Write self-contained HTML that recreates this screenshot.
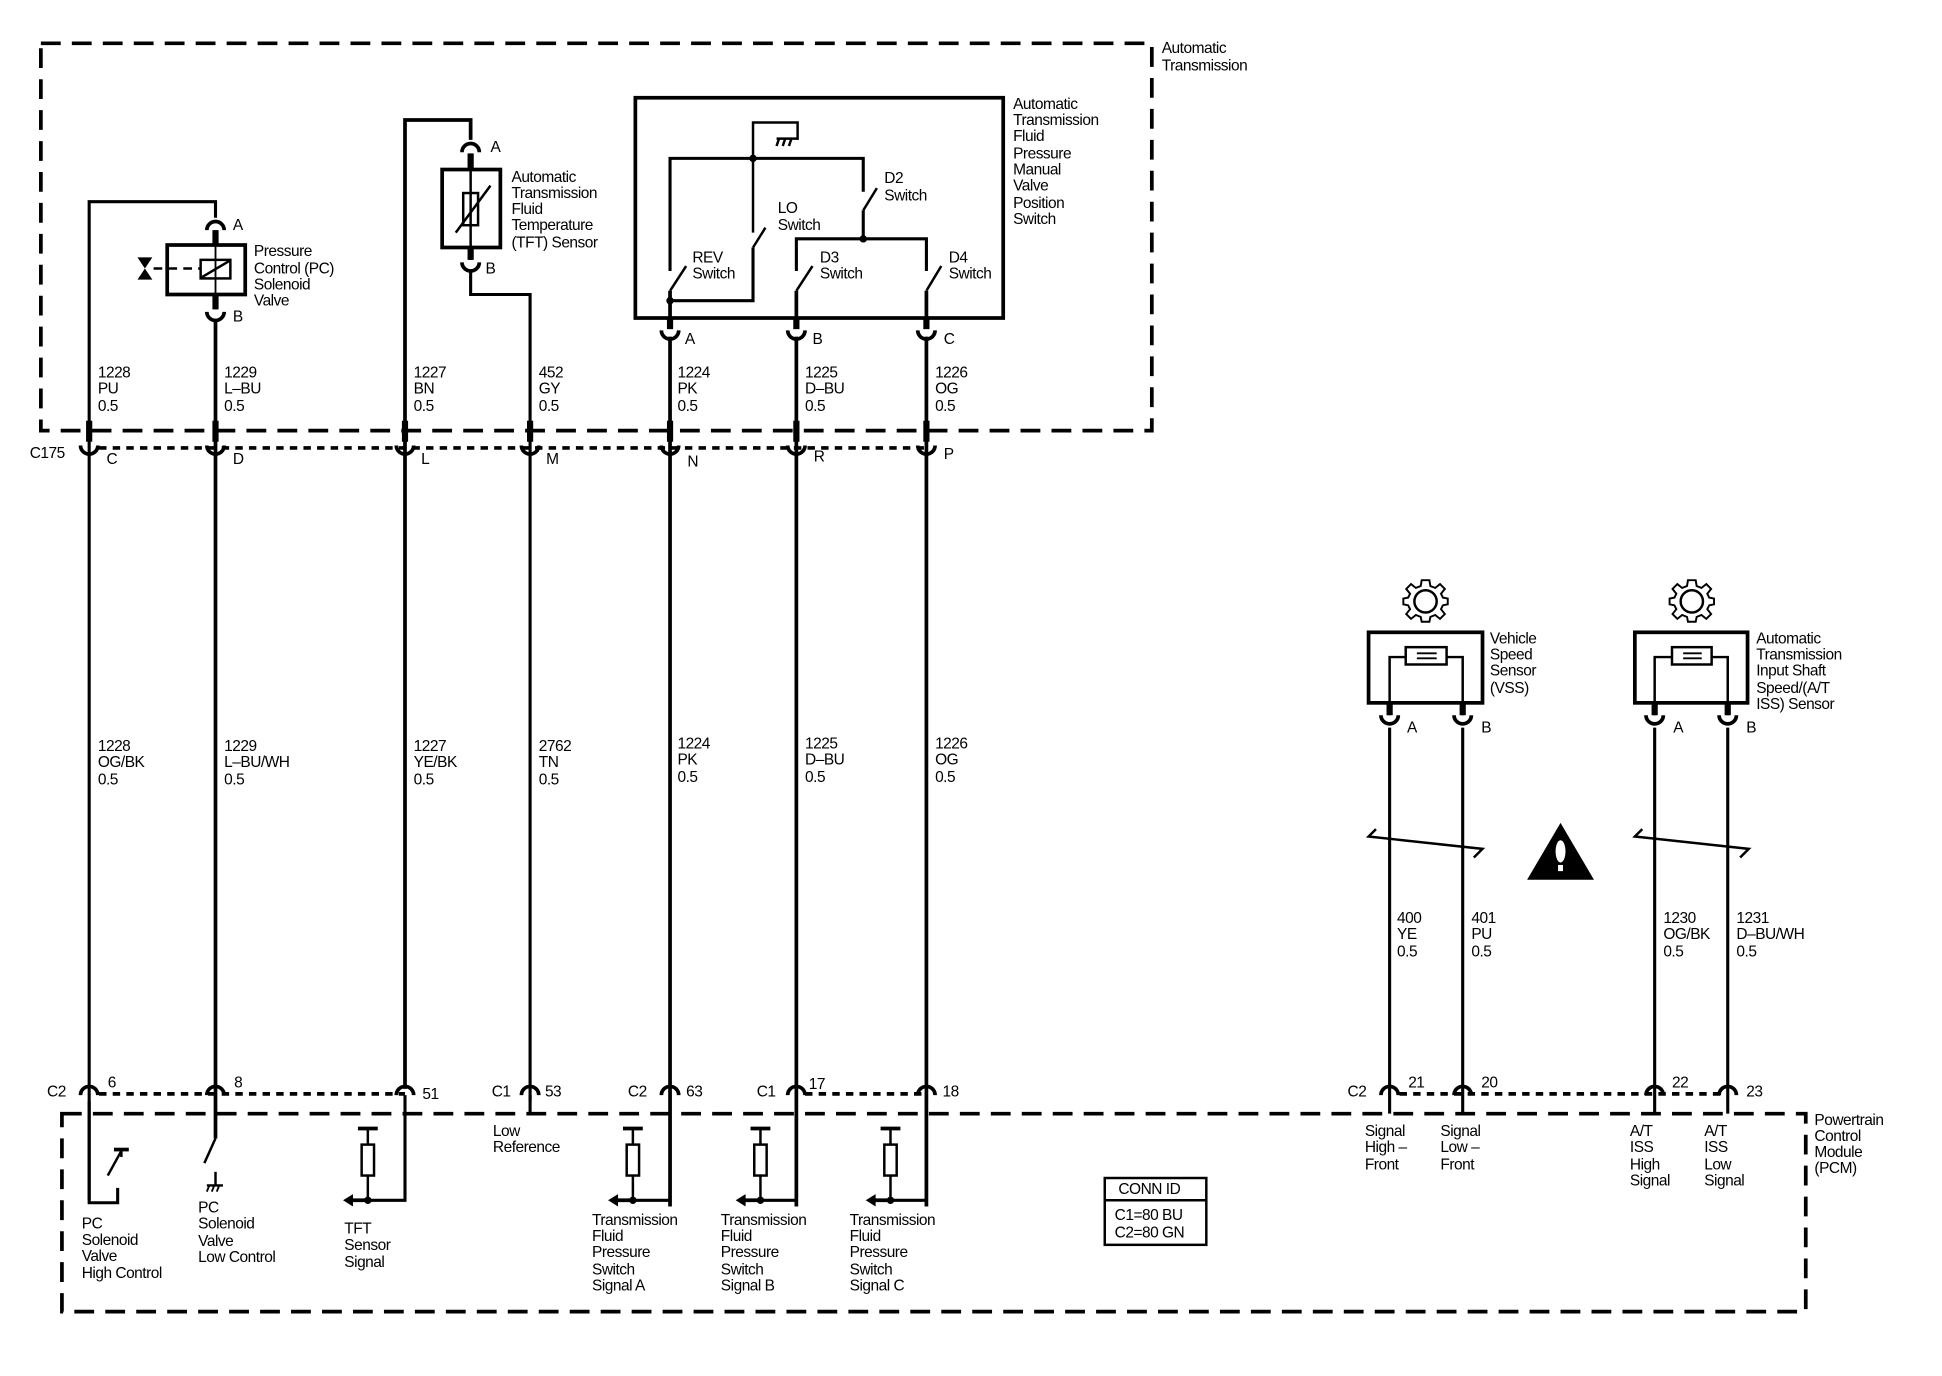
<!DOCTYPE html>
<html><head><meta charset="utf-8"><style>
html,body{margin:0;padding:0;background:#fff;}
svg{display:block;}
text{font-family:"Liberation Sans",sans-serif;font-size:12.5px;fill:#000;letter-spacing:-0.4px;}
</style></head><body>
<svg width="1942" height="1376" viewBox="0 0 1568 1112" preserveAspectRatio="none" xmlns="http://www.w3.org/2000/svg">
<defs>
<g id="cup"><path d="M-7,-5 A7,7 0 0 0 7,-5" fill="none" stroke="#000" stroke-width="3"/></g>
<g id="cap"><path d="M-7,5 A7,7 0 0 1 7,5" fill="none" stroke="#000" stroke-width="3"/></g>
<g id="gear" fill="none" stroke="#000" stroke-width="2">
<circle r="9"/>
<path d="M-4,-20 L4,-20 L5,-14 L10,-12 L15,-16 L20,-11 L16,-6 L18,-2 L23,-1 L23,5 L18,6 L16,10 L20,15 L15,20 L10,16 L5,18 L4,23 L-4,23 L-5,18 L-10,16 L-15,20 L-20,15 L-16,10 L-18,6 L-23,5 L-23,-1 L-18,-2 L-16,-6 L-20,-11 L-15,-16 L-10,-12 L-5,-14 Z" transform="translate(0,-1.5) scale(0.78)"/>
</g>
<g id="res" fill="none" stroke="#000" stroke-width="2">
<line x1="-8" y1="0" x2="8" y2="0" stroke-width="3"/>
<line x1="0" y1="0" x2="0" y2="13"/>
<rect x="-5" y="13" width="10" height="25"/>
<line x1="0" y1="38" x2="0" y2="58"/>
<circle cx="0" cy="58" r="2" fill="#000"/>
<line x1="-14" y1="58" x2="0" y2="58" stroke-width="3"/>
<path d="M-20,58 L-12,53 L-12,63 Z" fill="#000" stroke="none"/>
</g>
</defs>

<rect x="33" y="35" width="897" height="313" fill="none" stroke="#000" stroke-width="3" stroke-dasharray="16,9"/>
<rect x="50" y="900" width="1408" height="160" fill="none" stroke="#000" stroke-width="3" stroke-dasharray="16,9"/>
<text x="938" y="43">Automatic</text><text x="938" y="57">Transmission</text>
<text x="1465" y="909">Powertrain</text><text x="1465" y="922">Control</text><text x="1465" y="935">Module</text><text x="1465" y="948">(PCM)</text>

<g stroke="#000" stroke-width="3" stroke-dasharray="6,5">
<line x1="80" y1="362" x2="748" y2="362"/>
<line x1="80" y1="884" x2="327" y2="884"/>
<line x1="650" y1="884" x2="748" y2="884"/>
<line x1="1130" y1="884" x2="1395" y2="884"/>
</g>

<g stroke="#000" fill="none" stroke-width="3">
<polyline points="72,970 72,163 174,163 174,176" stroke-width="2.5"/>
<line x1="174" y1="186" x2="174" y2="198"/>
<line x1="174" y1="238" x2="174" y2="250"/>
<line x1="174" y1="260" x2="174" y2="920"/>
<rect x="135" y="198" width="63" height="40"/>
<rect x="162" y="210" width="24" height="15" stroke-width="2"/>
<line x1="163" y1="224" x2="185" y2="211" stroke-width="2"/>
<line x1="174" y1="198" x2="174" y2="238" stroke-width="1.5"/>
<line x1="124" y1="217" x2="162" y2="217" stroke-width="2" stroke-dasharray="7,5"/>
<polyline points="327,880 327,97 380,97 380,113"/>
<line x1="380" y1="124" x2="380" y2="137"/>
<rect x="357" y="137" width="47" height="63"/>
<rect x="374" y="156" width="12" height="26" stroke-width="2"/>
<line x1="380" y1="137" x2="380" y2="200" stroke-width="2"/>
<line x1="368" y1="188" x2="396" y2="150" stroke-width="2"/>
<line x1="380" y1="200" x2="380" y2="210"/>
<polyline points="380,220 380,238 428,238 428,890" stroke-width="2.5"/>
<rect x="513" y="79" width="297" height="178"/>
<polyline points="608,188 608,99 644,99 644,113" stroke-width="2"/>
<polyline points="541,219 541,128 697,128 697,155" stroke-width="2.5"/>
<line x1="697" y1="170" x2="708" y2="152" stroke-width="2"/>
<polyline points="697,170 697,193" stroke-width="2.5"/>
<polyline points="643,219 643,193 748,193 748,219" stroke-width="2.5"/>
<line x1="541" y1="235" x2="554" y2="215" stroke-width="2"/>
<line x1="643" y1="235" x2="656" y2="215" stroke-width="2"/>
<line x1="748" y1="235" x2="760" y2="215" stroke-width="2"/>
<line x1="608" y1="200" x2="618" y2="184" stroke-width="2"/>
<polyline points="608,200 608,243 541,243" stroke-width="2.5"/>
<line x1="541" y1="235" x2="541" y2="262"/>
<line x1="643" y1="235" x2="643" y2="262"/>
<line x1="748" y1="235" x2="748" y2="262"/>
<line x1="541" y1="272" x2="541" y2="975"/>
<line x1="643" y1="272" x2="643" y2="975"/>
<line x1="748" y1="272" x2="748" y2="975"/>
<line x1="72" y1="340" x2="72" y2="357" stroke-width="5"/>
<line x1="174" y1="340" x2="174" y2="357" stroke-width="5"/>
<line x1="327" y1="340" x2="327" y2="357" stroke-width="5"/>
<line x1="428" y1="340" x2="428" y2="357" stroke-width="5"/>
<line x1="541" y1="340" x2="541" y2="357" stroke-width="5"/>
<line x1="643" y1="340" x2="643" y2="357" stroke-width="5"/>
<line x1="748" y1="340" x2="748" y2="357" stroke-width="5"/>
<line x1="174" y1="238" x2="174" y2="250" stroke-width="5"/>
<line x1="174" y1="186" x2="174" y2="198" stroke-width="5"/>
<line x1="380" y1="124" x2="380" y2="137" stroke-width="5"/>
<line x1="380" y1="200" x2="380" y2="210" stroke-width="5"/>
<line x1="541" y1="257" x2="541" y2="266" stroke-width="5"/>
<line x1="643" y1="257" x2="643" y2="266" stroke-width="5"/>
<line x1="748" y1="257" x2="748" y2="266" stroke-width="5"/>
</g>
<path d="M111,208 L123,208 L117,217 Z M111,226 L123,226 L117,217 Z" fill="#000"/>
<g stroke="#000" stroke-width="2" fill="none">
<line x1="627" y1="112" x2="644" y2="112"/><line x1="629" y1="112" x2="627" y2="118"/><line x1="634" y1="112" x2="632" y2="118"/><line x1="639" y1="112" x2="637" y2="118"/>
</g>
<circle cx="608" cy="128" r="3"/><circle cx="697" cy="193" r="3"/><circle cx="541" cy="243" r="3"/>

<g>
<use href="#cap" x="174" y="181"/><use href="#cup" x="174" y="257"/>
<use href="#cap" x="380" y="118"/><use href="#cup" x="380" y="217"/>
<use href="#cup" x="541" y="272"/><use href="#cup" x="643" y="272"/><use href="#cup" x="748" y="272"/>
<use href="#cup" x="72" y="365"/><use href="#cup" x="174" y="365"/><use href="#cup" x="327" y="365"/><use href="#cup" x="428" y="365"/><use href="#cup" x="541" y="365"/><use href="#cup" x="643" y="365"/><use href="#cup" x="748" y="365"/>
<use href="#cap" x="72" y="880"/><use href="#cap" x="174" y="880"/><use href="#cap" x="327" y="880"/><use href="#cap" x="428" y="880"/><use href="#cap" x="541" y="880"/><use href="#cap" x="643" y="880"/><use href="#cap" x="748" y="880"/>
<use href="#cap" x="1122" y="880"/><use href="#cap" x="1181" y="880"/><use href="#cap" x="1336" y="880"/><use href="#cap" x="1395" y="880"/>
<use href="#cup" x="1122" y="583"/><use href="#cup" x="1181" y="583"/><use href="#cup" x="1336" y="583"/><use href="#cup" x="1395" y="583"/>
</g>

<text x="188" y="186">A</text><text x="188" y="260">B</text>
<text x="396" y="123">A</text><text x="392" y="221">B</text>
<text x="553" y="278">A</text><text x="656" y="278">B</text><text x="762" y="278">C</text>
<text x="205" y="207">Pressure</text><text x="205" y="221">Control (PC)</text><text x="205" y="234">Solenoid</text><text x="205" y="247">Valve</text>
<text x="413" y="147">Automatic</text><text x="413" y="160">Transmission</text><text x="413" y="173">Fluid</text><text x="413" y="186">Temperature</text><text x="413" y="200">(TFT) Sensor</text>
<text x="818" y="88">Automatic</text><text x="818" y="101">Transmission</text><text x="818" y="114">Fluid</text><text x="818" y="128">Pressure</text><text x="818" y="141">Manual</text><text x="818" y="154">Valve</text><text x="818" y="168">Position</text><text x="818" y="181">Switch</text>
<text x="714" y="148">D2</text><text x="714" y="162">Switch</text>
<text x="628" y="172">LO</text><text x="628" y="186">Switch</text>
<text x="559" y="212">REV</text><text x="559" y="225">Switch</text>
<text x="662" y="212">D3</text><text x="662" y="225">Switch</text>
<text x="766" y="212">D4</text><text x="766" y="225">Switch</text>

<g>
<text x="79" y="305">1228</text><text x="79" y="318">PU</text><text x="79" y="332">0.5</text>
<text x="181" y="305">1229</text><text x="181" y="318">L–BU</text><text x="181" y="332">0.5</text>
<text x="334" y="305">1227</text><text x="334" y="318">BN</text><text x="334" y="332">0.5</text>
<text x="435" y="305">452</text><text x="435" y="318">GY</text><text x="435" y="332">0.5</text>
<text x="547" y="305">1224</text><text x="547" y="318">PK</text><text x="547" y="332">0.5</text>
<text x="650" y="305">1225</text><text x="650" y="318">D–BU</text><text x="650" y="332">0.5</text>
<text x="755" y="305">1226</text><text x="755" y="318">OG</text><text x="755" y="332">0.5</text>
</g>
<text x="24" y="370">C175</text>
<text x="86" y="375">C</text><text x="188" y="375">D</text><text x="340" y="375">L</text><text x="441" y="375">M</text><text x="555" y="377">N</text><text x="657" y="373">R</text><text x="762" y="371">P</text>

<g>
<text x="79" y="607">1228</text><text x="79" y="620">OG/BK</text><text x="79" y="634">0.5</text>
<text x="181" y="607">1229</text><text x="181" y="620">L–BU/WH</text><text x="181" y="634">0.5</text>
<text x="334" y="607">1227</text><text x="334" y="620">YE/BK</text><text x="334" y="634">0.5</text>
<text x="435" y="607">2762</text><text x="435" y="620">TN</text><text x="435" y="634">0.5</text>
<text x="547" y="605">1224</text><text x="547" y="618">PK</text><text x="547" y="632">0.5</text>
<text x="650" y="605">1225</text><text x="650" y="618">D–BU</text><text x="650" y="632">0.5</text>
<text x="755" y="605">1226</text><text x="755" y="618">OG</text><text x="755" y="632">0.5</text>
</g>

<text x="38" y="886">C2</text><text x="87" y="879">6</text><text x="189" y="879">8</text><text x="341" y="888">51</text>
<text x="397" y="886">C1</text><text x="440" y="886">53</text>
<text x="507" y="886">C2</text><text x="554" y="886">63</text>
<text x="611" y="886">C1</text><text x="653" y="880">17</text><text x="761" y="886">18</text>
<text x="1088" y="886">C2</text><text x="1137" y="879">21</text><text x="1196" y="879">20</text><text x="1350" y="879">22</text><text x="1410" y="886">23</text>

<g stroke="#000" fill="none" stroke-width="2.5">
<polyline points="72,890 72,972 95,972 95,960"/>
<line x1="87" y1="950" x2="98" y2="930" stroke-width="2"/>
<line x1="92" y1="929" x2="104" y2="929" stroke-width="3"/>
<line x1="98" y1="929" x2="98" y2="935" stroke-width="2"/>
<line x1="174" y1="890" x2="174" y2="920" stroke-width="2"/>
<line x1="174" y1="920" x2="165" y2="940" stroke-width="2"/>
<line x1="174" y1="947" x2="174" y2="958" stroke-width="2"/>
<line x1="167" y1="958" x2="180" y2="958" stroke-width="2"/>
<line x1="169" y1="958" x2="167" y2="963" stroke-width="1.5"/><line x1="173" y1="958" x2="171" y2="963" stroke-width="1.5"/><line x1="177" y1="958" x2="175" y2="963" stroke-width="1.5"/>
<polyline points="327,885 327,970 297,970"/>
<polyline points="541,885 541,970 511,970"/>
<polyline points="643,885 643,970 614,970"/>
<polyline points="748,885 748,970 719,970"/>
<line x1="428" y1="885" x2="428" y2="900"/>
</g>
<use href="#res" x="297" y="912"/>
<use href="#res" x="511" y="912"/>
<use href="#res" x="614" y="912"/>
<use href="#res" x="719" y="912"/>

<text x="66" y="993">PC</text><text x="66" y="1006">Solenoid</text><text x="66" y="1019">Valve</text><text x="66" y="1033">High Control</text>
<text x="160" y="980">PC</text><text x="160" y="993">Solenoid</text><text x="160" y="1007">Valve</text><text x="160" y="1020">Low Control</text>
<text x="278" y="997">TFT</text><text x="278" y="1010">Sensor</text><text x="278" y="1024">Signal</text>
<text x="398" y="918">Low</text><text x="398" y="931">Reference</text>
<g>
<text x="478" y="990">Transmission</text><text x="478" y="1003">Fluid</text><text x="478" y="1016">Pressure</text><text x="478" y="1030">Switch</text><text x="478" y="1043">Signal A</text>
<text x="582" y="990">Transmission</text><text x="582" y="1003">Fluid</text><text x="582" y="1016">Pressure</text><text x="582" y="1030">Switch</text><text x="582" y="1043">Signal B</text>
<text x="686" y="990">Transmission</text><text x="686" y="1003">Fluid</text><text x="686" y="1016">Pressure</text><text x="686" y="1030">Switch</text><text x="686" y="1043">Signal C</text>
</g>
<rect x="892" y="952" width="82" height="54" fill="none" stroke="#000" stroke-width="2"/>
<line x1="892" y1="970" x2="974" y2="970" stroke="#000" stroke-width="2"/>
<text x="903" y="965">CONN ID</text><text x="900" y="986">C1=80 BU</text><text x="900" y="1000">C2=80 GN</text>

<use href="#gear" x="1151" y="486"/>
<use href="#gear" x="1366" y="486"/>
<g stroke="#000" fill="none" stroke-width="3">
<rect x="1105" y="511" width="92" height="57"/>
<rect x="1320" y="511" width="91" height="57"/>
<polyline points="1122,578 1122,531 1135,531" stroke-width="2"/><polyline points="1181,578 1181,531 1168,531" stroke-width="2"/>
<rect x="1135" y="523" width="33" height="14" stroke-width="2"/>
<polyline points="1336,578 1336,531 1350,531" stroke-width="2"/><polyline points="1395,578 1395,531 1382,531" stroke-width="2"/>
<rect x="1350" y="523" width="32" height="14" stroke-width="2"/>
<line x1="1122" y1="568" x2="1122" y2="578" stroke-width="5"/><line x1="1181" y1="568" x2="1181" y2="578" stroke-width="5"/>
<line x1="1336" y1="568" x2="1336" y2="578" stroke-width="5"/><line x1="1395" y1="568" x2="1395" y2="578" stroke-width="5"/>
<line x1="1122" y1="588" x2="1122" y2="900" stroke-width="2.5"/><line x1="1181" y1="588" x2="1181" y2="900" stroke-width="2.5"/>
<line x1="1336" y1="588" x2="1336" y2="900" stroke-width="2.5"/><line x1="1395" y1="588" x2="1395" y2="900" stroke-width="2.5"/>
<polyline points="1111,670 1105,676 1197,686 1190,693" stroke-width="2"/>
<polyline points="1326,670 1320,676 1412,686 1405,693" stroke-width="2"/>
</g>
<g stroke="#000" stroke-width="1.5"><line x1="1144" y1="528" x2="1160" y2="528"/><line x1="1144" y1="532" x2="1160" y2="532"/><line x1="1359" y1="528" x2="1374" y2="528"/><line x1="1359" y1="532" x2="1374" y2="532"/></g>
<path d="M1260,665 L1287,711 L1233,711 Z" fill="#000"/>
<ellipse cx="1260" cy="688" rx="4" ry="9" fill="#fff"/><rect x="1258" y="699" width="4" height="5" fill="#fff"/>

<text x="1136" y="592">A</text><text x="1196" y="592">B</text><text x="1351" y="592">A</text><text x="1410" y="592">B</text>
<text x="1203" y="520">Vehicle</text><text x="1203" y="533">Speed</text><text x="1203" y="546">Sensor</text><text x="1203" y="560">(VSS)</text>
<text x="1418" y="520">Automatic</text><text x="1418" y="533">Transmission</text><text x="1418" y="546">Input Shaft</text><text x="1418" y="560">Speed/(A/T</text><text x="1418" y="573">ISS) Sensor</text>
<text x="1128" y="746">400</text><text x="1128" y="759">YE</text><text x="1128" y="773">0.5</text>
<text x="1188" y="746">401</text><text x="1188" y="759">PU</text><text x="1188" y="773">0.5</text>
<text x="1343" y="746">1230</text><text x="1343" y="759">OG/BK</text><text x="1343" y="773">0.5</text>
<text x="1402" y="746">1231</text><text x="1402" y="759">D–BU/WH</text><text x="1402" y="773">0.5</text>
<text x="1102" y="918">Signal</text><text x="1102" y="931">High –</text><text x="1102" y="945">Front</text>
<text x="1163" y="918">Signal</text><text x="1163" y="931">Low –</text><text x="1163" y="945">Front</text>
<text x="1316" y="918">A/T</text><text x="1316" y="931">ISS</text><text x="1316" y="945">High</text><text x="1316" y="958">Signal</text>
<text x="1376" y="918">A/T</text><text x="1376" y="931">ISS</text><text x="1376" y="945">Low</text><text x="1376" y="958">Signal</text>
</svg>
</body></html>
